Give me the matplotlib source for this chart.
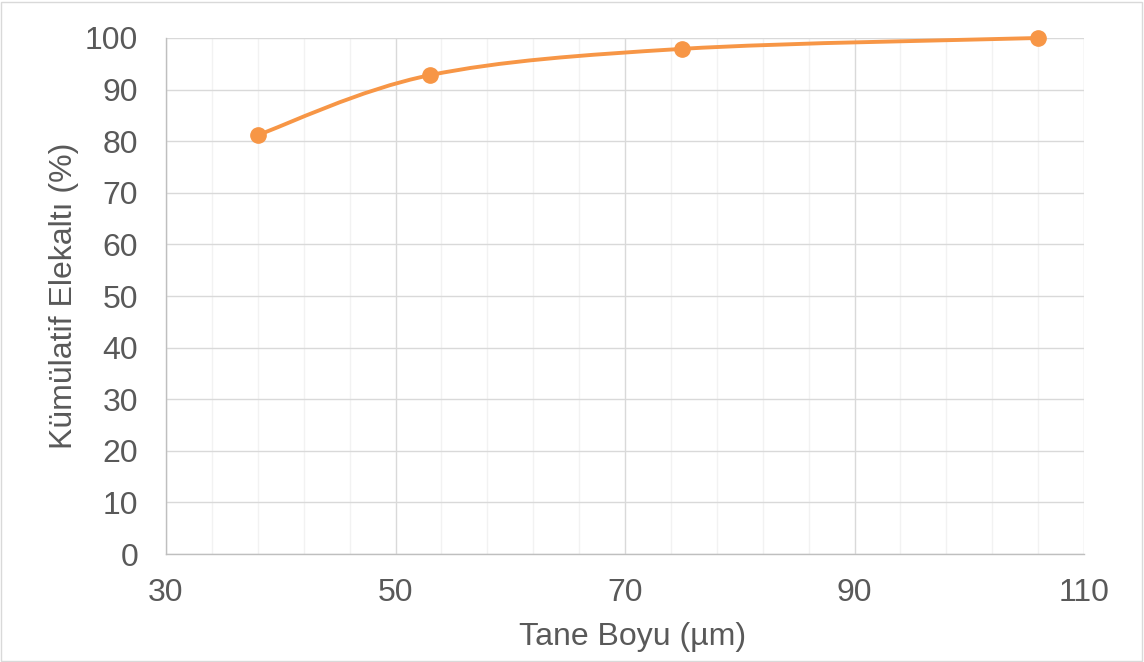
import numpy as np
import matplotlib.pyplot as plt
from matplotlib.path import Path
from matplotlib.patches import PathPatch, Rectangle
from matplotlib.ticker import MultipleLocator

plt.rcParams['font.family'] = ['Liberation Sans', 'DejaVu Sans']

## Data: particle size vs cumulative passing
tane_boyu = [38, 53, 75, 106]
kumulatif = [81.2, 92.8, 97.9, 100.0]

x_ticks = [30, 50, 70, 90, 110]
y_ticks = [0, 10, 20, 30, 40, 50, 60, 70, 80, 90, 100]

txt = '#595959'
orange = '#F79646'
fs = 23

fig = plt.figure(figsize=(11.44, 6.62), dpi=100)
ax = fig.add_axes([0.1451, 0.1631, 0.8025, 0.7795])

# smoothed line (cardinal spline as bezier segments)
P = np.column_stack([tane_boyu, kumulatif])
Pp = np.vstack([P[0], P, P[-1]])
verts = [P[0]]
codes = [Path.MOVETO]
for i in range(len(P) - 1):
    p0, p1, p2, p3 = Pp[i], Pp[i + 1], Pp[i + 2], Pp[i + 3]
    c1 = p1 + (p2 - p0) / 6
    c2 = p2 - (p3 - p1) / 6
    verts += [c1, c2, p2]
    codes += [Path.CURVE4] * 3
ax.add_patch(PathPatch(Path(verts, codes), fill=False, edgecolor=orange,
                       lw=2.8, capstyle='round', zorder=3, clip_on=False))
ax.plot(tane_boyu, kumulatif, 'o', color=orange, ms=11, zorder=4, clip_on=False)

ax.set_xlim(x_ticks[0], x_ticks[-1])
ax.set_ylim(y_ticks[0], y_ticks[-1])
ax.set_xticks(x_ticks)
ax.set_yticks(y_ticks)
ax.xaxis.set_minor_locator(MultipleLocator(4, offset=2))

ax.grid(which='major', color='#D9D9D9', lw=1.0)
ax.grid(which='minor', axis='x', color='#F2F2F2', lw=1.0)
ax.set_axisbelow(True)
for s in ['top', 'right']:
    ax.spines[s].set_visible(False)
for s in ['left', 'bottom']:
    ax.spines[s].set_color('#BFBFBF')
    ax.spines[s].set_linewidth(1.0)

ax.tick_params(which='both', length=0, labelsize=fs, labelcolor=txt)
ax.tick_params(axis='y', pad=20)
ax.tick_params(axis='x', pad=17)
ax.set_xlabel('Tane Boyu (µm)', fontsize=fs, color=txt)
ax.set_ylabel('Kümülatif Elekaltı (%)', fontsize=fs, color=txt)
ax.xaxis.set_label_coords(0.508, -0.132)
ax.yaxis.set_label_coords(-0.095, 0.5)

fig.patches.append(Rectangle((0.001, 0.002), 0.997, 0.995, transform=fig.transFigure,
                             fill=False, edgecolor='#D9D9D9', lw=1.0))

fig.savefig('out.png', dpi=100)
